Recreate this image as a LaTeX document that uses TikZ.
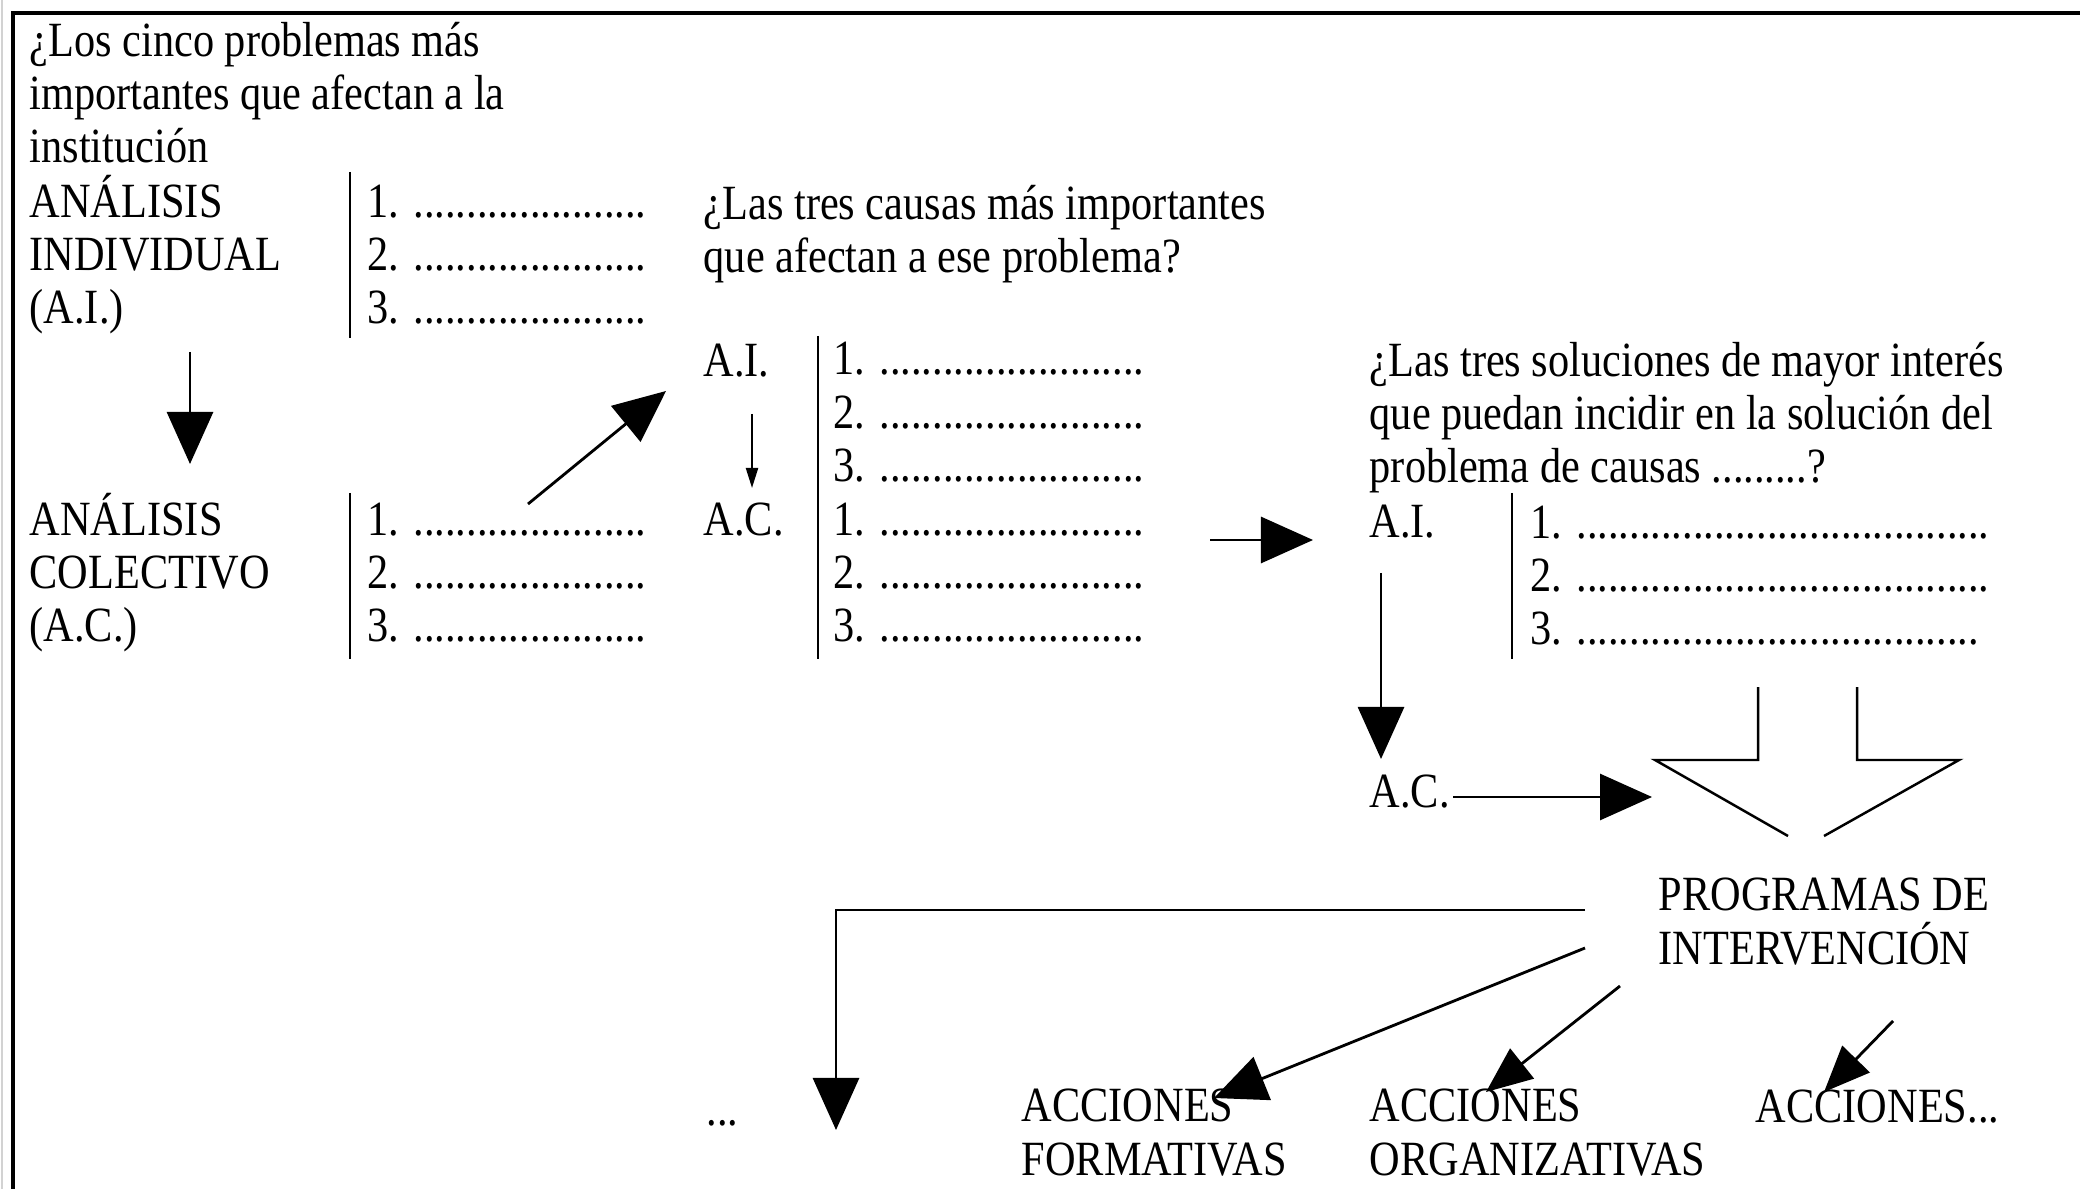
\documentclass[tikz,border=0pt]{standalone}
\usepackage{fontspec}
\setmainfont{Liberation Serif}[FakeStretch=0.86]
\usetikzlibrary{arrows.meta}

% multi-line nodes sit on the baseline of their last line
\tikzset{
  txt/.style={anchor=base west,inner sep=0pt,align=left,
    font=\fontsize{14}{15.2}\selectfont},
  bar/.style={line width=0.8pt},
  bigarrow/.style={line width=0.8pt,-{Triangle[width=0.46cm,length=0.52cm]}},
  midarrow/.style={line width=0.8pt,-{Triangle[width=0.38cm,length=0.46cm]}},
  smallarrow/.style={line width=0.6pt,-{Triangle[width=0.12cm,length=0.2cm]}},
}

\begin{document}
\begin{tikzpicture}[x=0.01cm,y=-0.01cm]
                \useasboundingbox (0,0) rectangle (2080,1189);
                \draw[gray!35,line width=0.4pt] (2,0) -- (2,1189);
                \draw[line width=1pt] (13,1189) -- (13,13) -- (2080,13);
                %% problems
                \node[txt] (q1) at (29,163) {¿Los cinco problemas más\\importantes que afectan a la\\institución};
                \node[txt] (ai1) at (29,324) {ANÁLISIS\\INDIVIDUAL\\(A.I.)};
                \node[txt] (ac1) at (29,642) {ANÁLISIS\\COLECTIVO\\(A.C.)};
                \draw[bar] (350,172) -- (350,338);
                \draw[bar] (350,493) -- (350,659);
                \node[txt] (lai1) at (367,324) {1. ......................\\2. ......................\\3. ......................};
                \node[txt] (lac1) at (367,642) {1. ......................\\2. ......................\\3. ......................};
                \coordinate (a1) at (190,352);
                \coordinate (a2) at (190,464);
                \draw[bigarrow] (a1) -- (a2);
                \coordinate (b1) at (528,504);
                \coordinate (b2) at (666,391);
                \draw[bigarrow] (b1) -- (b2);
                %% causes
                \node[txt] (q2) at (703,273) {¿Las tres causas más importantes\\que afectan a ese problema?};
                \node[txt] (ai2) at (703,377) {A.I.};
                \node[txt] (ac2) at (703,536) {A.C.};
                \draw[bar] (818,336) -- (818,659);
                \node[txt] (l2) at (833,642) {1. .........................\\2. .........................\\3. .........................\\1. .........................\\2. .........................\\3. .........................};
                \coordinate (c1) at (752,414);
                \coordinate (c2) at (752,488);
                \draw[smallarrow] (c1) -- (c2);
                \coordinate (d1) at (1210,540);
                \coordinate (d2) at (1313,540);
                \draw[bigarrow] (d1) -- (d2);
                %% solutions
                \node[txt] (q3) at (1369,483) {¿Las tres soluciones de mayor interés\\que puedan incidir en la solución del\\problema de causas .........?};
                \node[txt] (ai3) at (1369,538) {A.I.};
                \draw[bar] (1512,493) -- (1512,659);
                \node[txt] (l3) at (1530,645) {1. .......................................\\2. .......................................\\3. ......................................};
                \node[txt] (ac3) at (1369,807) {A.C.};
                \coordinate (e1) at (1381,573);
                \coordinate (e2) at (1381,759);
                \draw[bigarrow] (e1) -- (e2);
                \coordinate (f1) at (1453,797);
                \coordinate (f2) at (1652,797);
                \draw[bigarrow] (f1) -- (f2);
                \draw[line width=0.7pt] (1758,687) -- (1758,760) -- (1655,760) -- (1788,836);
                \draw[line width=0.7pt] (1857,687) -- (1857,760) -- (1959,760) -- (1824,836);
                %% programs and actions
                \node[txt] (prog) at (1658,964) {PROGRAMAS DE\\INTERVENCIÓN};
                \node[txt] (etc) at (706,1125) {...};
                \node[txt] (form) at (1021,1175) {ACCIONES\\FORMATIVAS};
                \node[txt] (org) at (1369,1175) {ACCIONES\\ORGANIZATIVAS};
                \node[txt] (more) at (1755,1122) {ACCIONES...};
                \coordinate (g1) at (1585,910);
                \coordinate (g2) at (836,1130);
                \draw[bigarrow] (g1) -| (g2);
                \coordinate (h1) at (1585,948);
                \coordinate (h2) at (1214,1098);
                \draw[bigarrow] (h1) -- (h2);
                \coordinate (i1) at (1620,986);
                \coordinate (i2) at (1486,1092);
                \draw[midarrow] (i1) -- (i2);
                \coordinate (j1) at (1893,1021);
                \coordinate (j2) at (1824,1092);
                \draw[midarrow] (j1) -- (j2);
\end{tikzpicture}
\end{document}
